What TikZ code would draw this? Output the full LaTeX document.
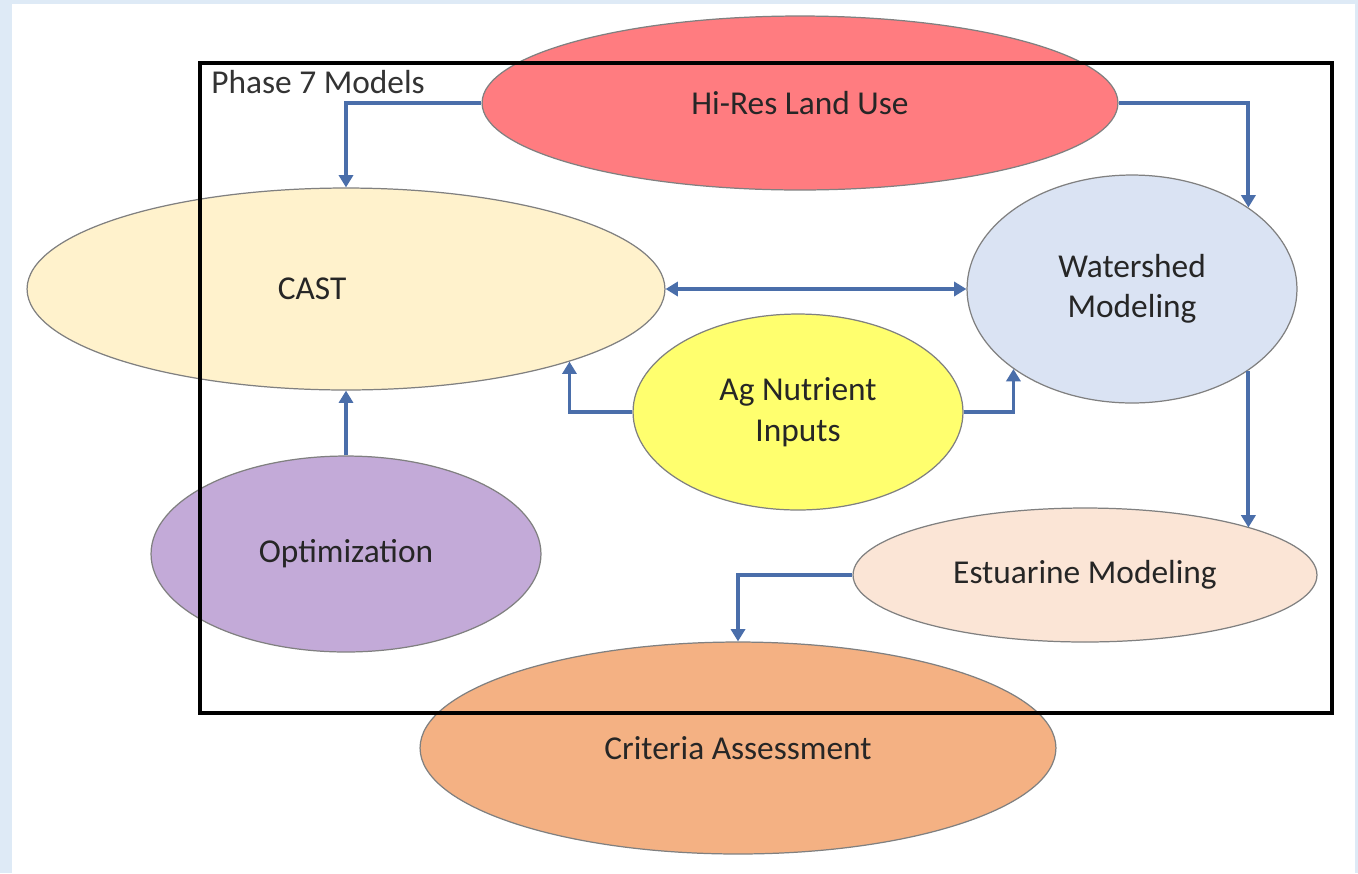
\documentclass[tikz,border=0pt]{standalone}
\usepackage{fontspec}
\setmainfont{Carlito}
\usetikzlibrary{shapes.geometric,arrows.meta}

\definecolor{pageblue}{HTML}{DEEAF6}
\definecolor{hiresred}{HTML}{FF7C80}
\definecolor{castcream}{HTML}{FFF2CC}
\definecolor{wsblue}{HTML}{DAE3F3}
\definecolor{agyellow}{HTML}{FFFF6E}
\definecolor{optpurple}{HTML}{C3AAD8}
\definecolor{estpeach}{HTML}{FBE5D6}
\definecolor{critorange}{HTML}{F4B183}
\definecolor{flowblue}{HTML}{4A6EAA}

\begin{document}
\begin{tikzpicture}[
  x=0.02cm, y=-0.02cm,
  model/.style={ellipse, draw=black!50, line width=0.7pt, inner sep=0pt, align=center,
    text=black!85, font=\fontsize{19}{23}\selectfont},
  flow/.style={line width=2.2pt, draw=flowblue, -{Triangle[length=7pt,width=8pt]}}
]

% Page
\useasboundingbox (0,0) rectangle (1358,873);
\fill[pageblue] (0,0) rectangle (1358,873);
\fill[white] (12,4) rectangle (1355,873);

% Models
\node[model, fill=hiresred, minimum width=12.72cm, minimum height=3.48cm] (hires) at (800,103) {Hi-Res Land Use};
\node[model, fill=castcream, minimum width=12.76cm, minimum height=4.04cm] (cast) at (346,289) {CAST\hspace*{1.36cm}};
\node[model, fill=wsblue, minimum width=6.6cm, minimum height=4.56cm] (ws) at (1132,289) {Watershed\\Modeling};
\node[model, fill=agyellow, minimum width=6.6cm, minimum height=3.92cm] (ag) at (798,412) {Ag Nutrient\\Inputs};
\node[model, fill=optpurple, minimum width=7.8cm, minimum height=3.92cm] (opt) at (346,554) {Optimization};
\node[model, fill=estpeach, minimum width=9.28cm, minimum height=2.68cm] (est) at (1085,575) {Estuarine Modeling};
\node[model, fill=critorange, minimum width=12.72cm, minimum height=4.24cm] (crit) at (738,748) {Criteria Assessment};

% Links
\draw[flow] (hires.west) -| (cast.north);
\draw[flow] (hires.east) -| (ws.35.4);
\draw[flow, {Triangle[length=7pt,width=8pt]}-{Triangle[length=7pt,width=8pt]}] (cast.east) -- (ws.west);
\draw[flow] (ag.west) -| (cast.-18.2);
\draw[flow] (ag.east) -| (ws.214.5);
\draw[flow] (ws.-35.86) -- (ws.-35.86 |- est.16.68);
\draw[flow] (opt.north) -- (cast.south);
\draw[flow] (est.west) -| (crit.north);

% Phase 7 frame
\draw[line width=2.8pt] (200,63) rectangle (1332,713);
\node[anchor=base west, inner sep=0pt, text=black!80, font=\fontsize{19}{23}\selectfont] (phase) at (211,93) {Phase 7 Models};

\end{tikzpicture}
\end{document}
